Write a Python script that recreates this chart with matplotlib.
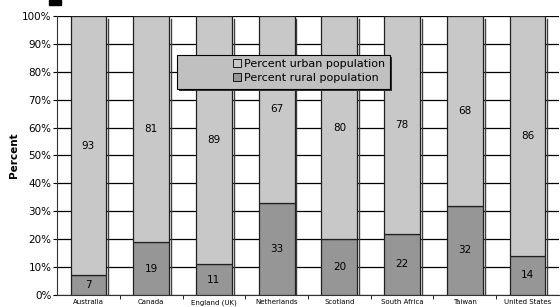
import numpy as np
import matplotlib.pyplot as plt
from matplotlib.patches import Rectangle

countries = ['Australia', 'Canada', 'England (UK)', 'Netherlands', 'Scotland',
             'South Africa', 'Taiwan', 'United States']
urban = [93, 81, 89, 67, 80, 78, 68, 86]
rural = [7, 19, 11, 33, 20, 22, 32, 14]

fig = plt.figure(figsize=(5.6, 3.07), dpi=100)
ax = fig.add_axes([0.102, 0.039, 0.896, 0.909])

x = np.arange(len(countries))
w = 0.57
rb = ax.bar(x, rural, w, color='#969696', edgecolor='#202020', linewidth=0.9, zorder=3,
            label='Percent rural population')
ub = ax.bar(x, urban, w, bottom=rural, color='#c8c8c8', edgecolor='#202020', linewidth=0.9,
            zorder=3, label='Percent urban population')

# shadow on right side of bars
for xi in x:
    ax.plot([xi + w / 2 + 0.03] * 2, [0, 99], color='#404040', lw=1.0, zorder=2)

for xi, r, u in zip(x, rural, urban):
    ax.text(xi, r / 2, str(r), ha='center', va='center', fontsize=7.5, zorder=4)
    ax.text(xi, r + u / 2, str(u), ha='center', va='center', fontsize=7.5, zorder=4)

ax.set_xlim(-0.5, len(countries) - 0.5)
ax.set_ylim(0, 100)
ax.set_yticks(np.arange(0, 101, 10))
ax.set_yticklabels(['{}%'.format(v) for v in range(0, 101, 10)], fontsize=7.5)
ax.yaxis.grid(True, color='black', lw=0.9, zorder=0)
ax.set_axisbelow(True)
ax.set_xticks(x)
ax.set_xticklabels(countries, fontsize=5)
ax.tick_params(axis='x', length=0, pad=3)
ax.set_xticks(np.arange(0.5, len(countries) - 1, 1), minor=True)
ax.tick_params(axis='x', which='minor', length=3, direction='out', color='black')
ax.tick_params(axis='y', length=3, direction='out', pad=1)
ax.set_ylabel('Percent', fontsize=7.5, fontweight='bold', labelpad=2)

for s in ['top', 'right']:
    ax.spines[s].set_visible(False)
ax.spines['left'].set_color('#333333')
ax.spines['bottom'].set_color('#333333')

# legend background box (wider than the entries, like the original)
ax.add_patch(Rectangle((0.243, 0.732), 0.424, 0.122, transform=ax.transAxes,
                       facecolor='#303030', edgecolor='none', zorder=5))
ax.add_patch(Rectangle((0.239, 0.738), 0.424, 0.122, transform=ax.transAxes,
                       facecolor='#c0c0c0', edgecolor='black', lw=0.8, zorder=5))

leg = ax.legend(handles=[ub, rb], loc='upper left', bbox_to_anchor=(0.344, 0.858),
                fontsize=8, frameon=False, handlelength=0.7,
                handleheight=0.7, handletextpad=0.3, borderpad=0.3, labelspacing=0.35,
                borderaxespad=0)
leg.set_zorder(6)
for h in leg.legend_handles:
    h.set_linewidth(0.6)
    h.set_edgecolor('black')

fig.patches.append(Rectangle((49 / 560, 1 - 5 / 307), 12 / 560, 5 / 307,
                             transform=fig.transFigure, color='black'))

fig.savefig('out.png', dpi=100)
